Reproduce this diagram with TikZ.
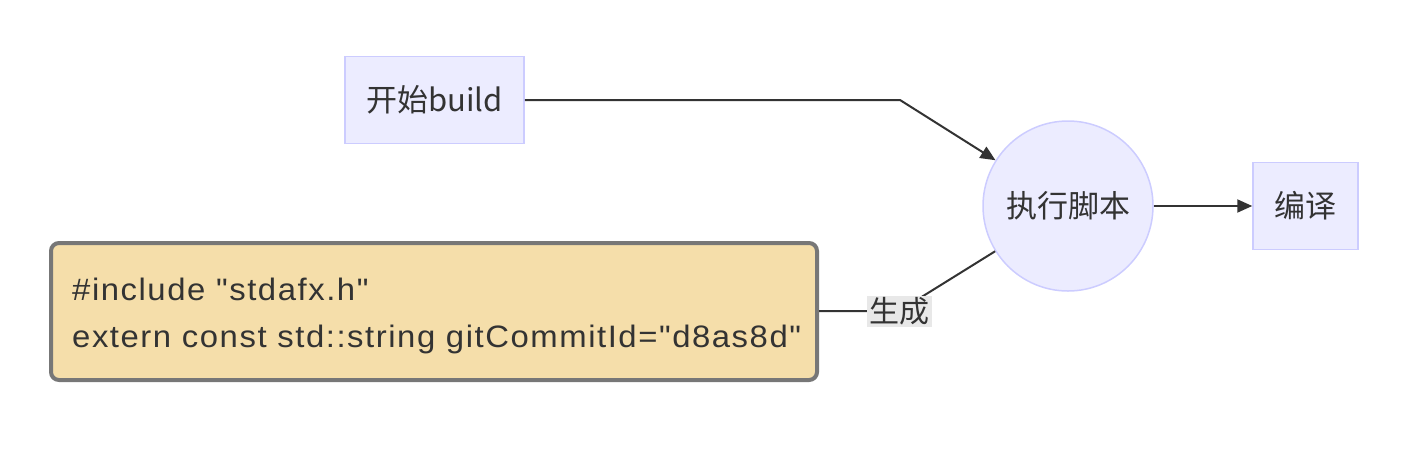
\documentclass[tikz,border=0pt]{standalone}
\usepackage{fontspec}
\setmainfont{Liberation Sans}
\newfontfamily\codefont[FakeStretch=1.06,LetterSpace=5]{Liberation Sans}
\newfontfamily\cjk{Noto Sans CJK SC}
\usetikzlibrary{arrows.meta}
\definecolor{nodefill}{HTML}{ECECFF}
\definecolor{nodeline}{HTML}{CCCCFF}
\definecolor{notefill}{HTML}{F5DEAA}
\definecolor{noteline}{HTML}{777777}
\definecolor{edge}{HTML}{333333}
\definecolor{lblbg}{HTML}{E8E8E8}
\tikzset{
  procbox/.style={draw=nodeline, fill=nodefill, line width=1.5pt, inner sep=0pt, text=edge, font=\cjk\fontsize{31}{36}\selectfont},
  notebox/.style={draw=noteline, fill=notefill, line width=4pt, rounded corners=8pt, inner sep=0pt, text=edge},
  codeline/.style={anchor=base west, inner sep=0pt, text=edge, font=\codefont\fontsize{31}{36}\selectfont},
  conn/.style={draw=edge, line width=2pt},
  tip/.style={-{Triangle[length=15pt,width=13pt]}},
  lbl/.style={fill=lblbg, text=edge, inner sep=0pt, minimum width=65pt, minimum height=31pt, font=\cjk\fontsize{30}{32}\selectfont}
}
\begin{document}
\begin{tikzpicture}[x=1pt,y=-1pt]
\useasboundingbox (0,0) rectangle (1412,456);
\node[procbox, minimum width=179pt, minimum height=87pt] (start) at (434.5,100) {开始build};
\node[procbox, circle, minimum size=170pt] (exec) at (1068,206) {执行脚本};
\node[procbox, minimum width=105pt, minimum height=87pt] (comp) at (1305.5,206) {编译};
\node[notebox, minimum width=766pt, minimum height=137pt] (note) at (434,311.5) {};
\node[codeline] (l1) at (72,300) {\#include "stdafx.h"};
\node[codeline] (l2) at (72,347) {extern const std::string gitCommitId="d8as8d"};
\coordinate (b1) at (900,100);
\coordinate (b2) at (899,311);
\draw[conn, tip] (start.east) -- (b1) -- (exec);
\draw[conn, tip] (exec) -- (comp.west);
\draw[conn] (note.east |- b2) -- (b2) -- (exec);
\node[lbl] (gen) at (899.5,311.5) {生成};
\end{tikzpicture}
\end{document}
